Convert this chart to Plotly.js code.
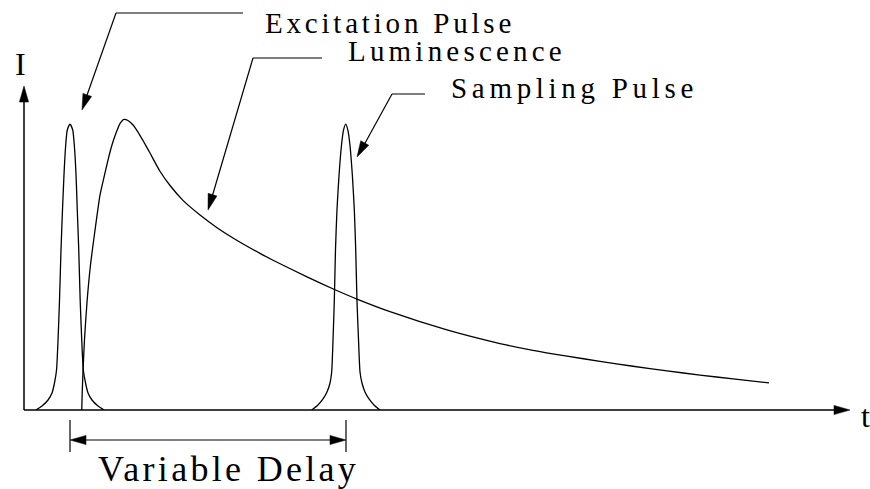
<!DOCTYPE html>
<html>
<head>
<meta charset="utf-8">
<script src="https://cdn.plot.ly/plotly-3.0.1.min.js"></script>
<style>html,body{margin:0;padding:0;background:#fff;}#chart{width:870px;height:489px;}</style>
</head>
<body>
<div id="chart"></div>
<script>
// ---- Data (time in arbitrary units, intensity normalised so pulse peaks = 100) ----
const tExc = [1.45, 2.18, 2.91, 3.39, 3.69, 3.94, 4.12, 4.30, 4.48, 4.66, 4.84, 5.05, 5.24, 5.57, 5.90, 6.09, 6.30, 6.45, 6.63, 6.80, 6.99, 7.18, 7.45, 7.75, 8.23, 8.96, 9.69];
const iExc = [0, 1.40, 3.50, 5.94, 9.44, 13.99, 24.48, 38.46, 55.94, 69.93, 82.17, 92.66, 97.90, 100, 97.90, 92.66, 82.17, 69.93, 55.94, 38.46, 24.48, 13.99, 9.44, 5.94, 3.50, 1.40, 0];

const tLum = [6.99, 7.05, 7.14, 7.32, 7.63, 8.05, 8.60, 9.20, 9.69, 10.17, 10.65, 11.14, 11.62, 12.11, 12.59, 13.20, 13.80, 14.44, 15.25, 16.46, 17.68, 19.25, 21.31, 23.37, 25.30, 28.57, 30.15, 34.26, 37.65, 40.31, 44.31, 51.21, 57.63, 61.62, 65.74, 69.73, 73.73, 77.85, 81.84, 85.84, 90.19];
const iLum = [0, 6.29, 13.29, 24.48, 37.76, 50.70, 62.94, 75.17, 81.47, 87.41, 92.66, 96.85, 100.17, 101.64, 101.22, 99.65, 97.20, 94.06, 89.86, 83.50, 78.50, 73.30, 68.18, 63.76, 60.16, 54.76, 52.38, 46.53, 42.05, 38.79, 34.40, 28.02, 23.25, 20.87, 18.83, 17.02, 15.30, 13.67, 12.22, 10.87, 9.50];

const tSam = [34.83, 35.59, 36.20, 36.68, 37.05, 37.25, 37.41, 37.57, 37.71, 37.89, 38.14, 38.44, 38.68, 38.95, 39.21, 39.46, 39.75, 39.99, 40.16, 40.31, 40.50, 40.68, 40.92, 41.28, 41.77, 42.37, 43.10];
const iSam = [0, 1.75, 3.85, 6.29, 9.44, 13.29, 24.48, 38.46, 55.94, 69.93, 82.17, 92.66, 97.90, 100, 97.90, 92.66, 82.17, 69.93, 55.94, 38.46, 24.48, 13.29, 9.44, 6.29, 3.85, 1.75, 0];

const labelExc = "Excitation Pulse";
const labelLum = "Luminescence";
const labelSam = "Sampling Pulse";
const labelDelay = "Variable Delay";
const labelY = "I";
const labelX = "t";

// ---- Layout geometry ----
const W = 870, H = 489, ML = 24, MR = 20, MT = 86, MB = 79;
const PW = W - ML - MR, PH = H - MT - MB;
const fx = x => (x - ML) / PW;          // pixel -> paper x
const fy = y => (H - MB - y) / PH;      // pixel -> paper y
const SERIF = "Liberation Serif, Times New Roman, serif";

const shapes = [];
function seg(x0, y0, x1, y1, w) {
  shapes.push({type: 'line', xref: 'paper', yref: 'paper',
    x0: fx(x0), y0: fy(y0), x1: fx(x1), y1: fy(y1),
    line: {color: '#000', width: w || 1.2}});
}
function head(x0, y0, x1, y1, len, hw) {
  len = len || 16; hw = hw || 4.6;
  const dx = x1 - x0, dy = y1 - y0, d = Math.hypot(dx, dy);
  const ux = dx / d, uy = dy / d;
  const bx = x1 - ux * len, by = y1 - uy * len;
  const p1 = [bx - uy * hw, by + ux * hw], p2 = [bx + uy * hw, by - ux * hw];
  shapes.push({type: 'path', xref: 'paper', yref: 'paper',
    path: `M${fx(x1)},${fy(y1)} L${fx(p1[0])},${fy(p1[1])} L${fx(p2[0])},${fy(p2[1])} Z`,
    fillcolor: '#000', line: {color: '#000', width: 0.5}});
}

// axes
seg(24, 410, 836, 410, 1.5); head(24, 410, 850, 410);
seg(24, 410, 24, 100, 1.5); head(24, 410, 24, 86);
// leaders
seg(243, 13, 116, 13); seg(116, 13, 86, 98); head(116, 13, 82, 110);
seg(322, 58, 253, 58); seg(253, 58, 212, 197); head(253, 58, 208, 210);
seg(425, 94, 392, 94); seg(392, 94, 364, 145); head(392, 94, 357, 157);
// variable delay
seg(70, 420, 70, 452); seg(346, 420, 346, 452);
seg(84, 440, 332, 440); head(346, 440, 70, 440); head(70, 440, 346, 440);

const ann = (text, x, y, size, spacing, xanchor) => ({
  text: spacing ? `<span style="letter-spacing:${spacing}px">${text}</span>` : text,
  xref: 'paper', yref: 'paper', x: fx(x), y: fy(y),
  xanchor: xanchor || 'left', yanchor: 'middle', showarrow: false,
  font: {family: SERIF, size: size, color: '#000'}
});
const annotations = [
  ann(labelExc, 263, 23.5, 29, 3.8),
  ann(labelLum, 346, 50.5, 29, 4.2),
  ann(labelSam, 449, 87.5, 29, 4.7),
  ann(labelDelay, 96, 469, 36, 3.3),
  ann(labelY, 20, 64, 32, 0, 'center'),
  ann(labelX, 859, 416, 32)
];

const lineStyle = {color: '#000', width: 1.3, shape: 'spline', smoothing: 0.6};
const traces = [
  {x: tExc, y: iExc, mode: 'lines', line: lineStyle, hoverinfo: 'skip'},
  {x: tLum, y: iLum, mode: 'lines', line: lineStyle, hoverinfo: 'skip'},
  {x: tSam, y: iSam, mode: 'lines', line: lineStyle, hoverinfo: 'skip'}
];

const layout = {
  width: W, height: H,
  margin: {l: ML, r: MR, t: MT, b: MB, pad: 0},
  paper_bgcolor: '#fff', plot_bgcolor: '#fff',
  showlegend: false,
  xaxis: {range: [0, 100], showgrid: false, zeroline: false, showticklabels: false, showline: false, ticks: ''},
  yaxis: {range: [0, 113.3], showgrid: false, zeroline: false, showticklabels: false, showline: false, ticks: ''},
  shapes: shapes,
  annotations: annotations
};

Plotly.newPlot('chart', traces, layout, {staticPlot: true, displayModeBar: false});
</script>
</body>
</html>
